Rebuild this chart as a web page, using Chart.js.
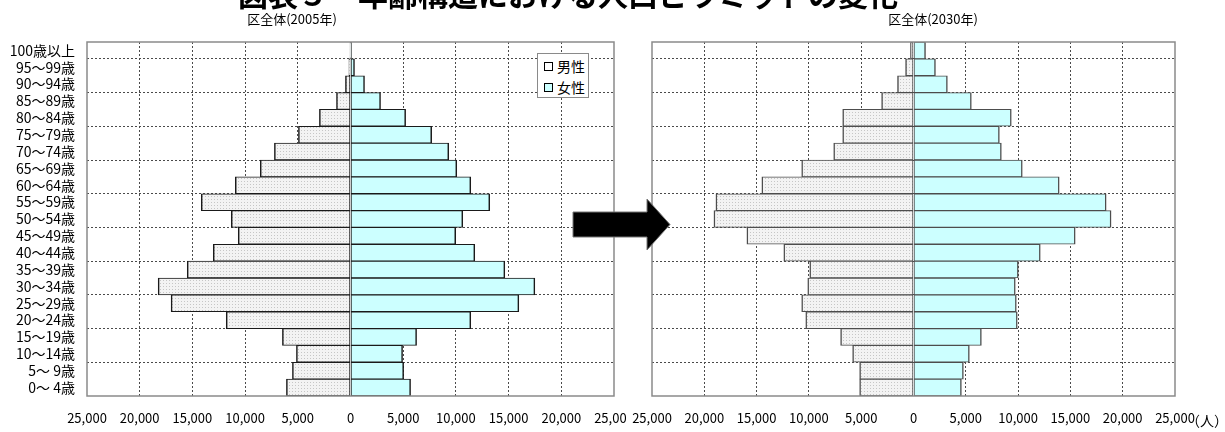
<!DOCTYPE html>
<html lang="ja">
<head>
<meta charset="utf-8">
<title>人口ピラミッド</title>
<script src="https://cdn.jsdelivr.net/npm/chart.js@4.4.0/dist/chart.umd.min.js"></script>
<style>
  html, body { margin: 0; padding: 0; background: #fff; width: 1225px; height: 432px; overflow: hidden; }
  body { font-family: "Noto Sans CJK JP", "Noto Sans", sans-serif; color: #000; }
  #wrap { position: relative; width: 1225px; height: 432px; }
  canvas { position: absolute; top: 0; }
  #c2005 { left: 0; }
  #c2030 { left: 626px; background: #fff; }
  .maintitle { position: absolute; left: 238px; top: -22px; font-size: 30px; line-height: 30px; font-weight: bold; white-space: nowrap; }
  .sub { position: absolute; top: 11px; font-size: 13px; line-height: 16px; white-space: nowrap; transform: translateX(-50%); background: #fff; }
  .legend { position: absolute; left: 537px; top: 53px; width: 52px; height: 45px; box-sizing: border-box; border: 1px solid #8a8a8a; background: #fff; }
  .legend .item { position: absolute; left: 6px; font-size: 14px; line-height: 16px; white-space: nowrap; }
  .legend .sw { display: inline-block; width: 7px; height: 7px; border: 1px solid #000; margin-right: 4px; vertical-align: 1px; }
  .unit { position: absolute; left: 1186px; top: 411px; font-size: 14px; line-height: 18px; white-space: nowrap; }
  svg.arrow { position: absolute; left: 0; top: 0; }
</style>
</head>
<body>
<div id="wrap">
  <canvas id="c2005" width="640" height="432"></canvas>
  <canvas id="c2030" width="599" height="432"></canvas>
  <div class="maintitle">図表５　年齢構造における人口ピラミッドの変化</div>
  <div class="sub" style="left:292px">区全体(2005年)</div>
  <div class="sub" style="left:933px">区全体(2030年)</div>
  <div class="legend">
    <div class="item" style="top:4px"><span class="sw" style="background:#fff"></span>男性</div>
    <div class="item" style="top:25px"><span class="sw" style="background:#ccffff"></span>女性</div>
  </div>
  <div class="unit">（人）</div>
  <svg class="arrow" width="1225" height="432">
    <polygon points="573,212 647,212 647,199 670,224.5 647,250 647,237 573,237" fill="#000" stroke="#777" stroke-width="1"/>
  </svg>
</div>
<script>
// 年齢階級（上から順）
const ageGroups = [
  '100歳以上', '95～99歳', '90～94歳', '85～89歳', '80～84歳', '75～79歳', '70～74歳',
  '65～69歳', '60～64歳', '55～59歳', '50～54歳', '45～49歳', '40～44歳', '35～39歳',
  '30～34歳', '25～29歳', '20～24歳', '15～19歳', '10～14歳', '5～ 9歳', '0～ 4歳'
];

// 2005年 人口（人）
const male2005 = [
  10, 150, 480, 1330, 2950, 4940, 7220, 8560, 10930, 14160, 11310,
  10650, 13020, 15490, 18250, 17020, 11790, 6460, 5130, 5510, 6080
];
const female2005 = [
  40, 380, 1330, 2850, 5230, 7700, 9320, 10080, 11410, 13210, 10650,
  9980, 11790, 14640, 17490, 15970, 11410, 6270, 4940, 5040, 5700
];

// 2030年 推計人口（人）
const male2030 = [
  290, 760, 1530, 3050, 6770, 6770, 7630, 10690, 14500, 18890, 19080,
  15930, 12400, 9920, 10110, 10690, 10300, 6970, 5820, 5150, 5150
];
const female2030 = [
  1150, 2100, 3240, 5530, 9350, 8210, 8400, 10400, 13930, 18420, 18890,
  15460, 12120, 10020, 9730, 9830, 9920, 6490, 5340, 4770, 4580
];

// 横軸の範囲と目盛
const axisMax = 25000;
const axisStep = 5000;

Chart.defaults.font.family = '"Noto Sans CJK JP", "Noto Sans", sans-serif';
Chart.defaults.color = '#000';

// 男性の棒に使う点描パターン
function dotPattern(ctx) {
  const c = document.createElement('canvas');
  c.width = 3; c.height = 3;
  const g = c.getContext('2d');
  g.fillStyle = '#f3f3f3';
  g.fillRect(0, 0, 3, 3);
  g.fillStyle = '#c6c6c6';
  g.fillRect(1, 1, 1, 1);
  return ctx.createPattern(c, 'repeat');
}

// 外枠と0の縦線
const framePlugin = {
  id: 'frame',
  beforeDatasetsDraw(chart) {
    const { ctx, chartArea: a, scales: { x } } = chart;
    const x0 = Math.round(x.getPixelForValue(0)) + 0.5;
    ctx.save();
    ctx.strokeStyle = '#707070';
    ctx.lineWidth = 1;
    ctx.beginPath();
    ctx.moveTo(x0, a.top);
    ctx.lineTo(x0, a.bottom);
    ctx.stroke();
    ctx.restore();
  },
  afterDraw(chart) {
    const { ctx, chartArea: a } = chart;
    ctx.save();
    ctx.strokeStyle = '#8a8a8a';
    ctx.lineWidth = 1.5;
    ctx.strokeRect(Math.round(a.left), Math.round(a.top), Math.round(a.right - a.left), Math.round(a.bottom - a.top));
    ctx.restore();
  }
};

function makePyramid(canvasId, male, female, o) {
  const canvas = document.getElementById(canvasId);
  const ctx = canvas.getContext('2d');
  return new Chart(ctx, {
    type: 'bar',
    data: {
      labels: ageGroups,
      datasets: [
        {
          label: '男性',
          data: male.map(v => -v),
          backgroundColor: dotPattern(ctx),
          borderColor: o.barBorder,
          borderWidth: { top: 1, bottom: 1, left: 1.5, right: 1 },
          borderSkipped: false,
          barPercentage: 1,
          categoryPercentage: 1
        },
        {
          label: '女性',
          data: female,
          backgroundColor: '#ccffff',
          borderColor: o.barBorder,
          borderWidth: { top: 1, bottom: 1, left: 1, right: 1.5 },
          borderSkipped: false,
          barPercentage: 1,
          categoryPercentage: 1
        }
      ]
    },
    options: {
      indexAxis: 'y',
      responsive: false,
      animation: false,
      layout: { padding: { top: 42, right: o.padRight, left: 0, bottom: 0 } },
      plugins: { legend: { display: false }, title: { display: false }, tooltip: { enabled: false } },
      scales: {
        x: {
          type: 'linear',
          min: -axisMax,
          max: axisMax,
          stacked: true,
          grid: {
            drawTicks: false,
            lineWidth: 1,
            color: c => {
              const v = c.tick ? c.tick.value : null;
              return (v === 0 || Math.abs(v) === axisMax) ? 'rgba(0,0,0,0)' : '#4a4a4a';
            }
          },
          border: { display: false, dash: [2, 2] },
          ticks: {
            stepSize: axisStep,
            autoSkip: false,
            maxRotation: 0,
            padding: 14,
            color: '#000',
            font: { size: 13 },
            callback: v => Math.abs(v).toLocaleString('en-US')
          },
          afterFit: s => { s.height = 36; s.paddingLeft = 0; s.paddingRight = 0; }
        },
        y: {
          type: 'category',
          stacked: true,
          offset: true,
          grid: {
            offset: true,
            drawTicks: false,
            lineWidth: 1,
            color: c => (typeof c.index === 'number' && c.index % 2 === 1) ? '#4a4a4a' : 'rgba(0,0,0,0)'
          },
          border: { display: false, dash: [2, 2] },
          ticks: {
            display: o.showLabels,
            autoSkip: false,
            padding: 12,
            color: '#000',
            font: { size: 14 }
          },
          afterFit: s => { s.width = o.yWidth; s.paddingTop = 0; s.paddingBottom = 0; }
        }
      }
    },
    plugins: [framePlugin]
  });
}

makePyramid('c2005', male2005, female2005, { barBorder: '#1a1a1a', padRight: 26, yWidth: 87, showLabels: true });
makePyramid('c2030', male2030, female2030, { barBorder: '#4d4d4d', padRight: 50, yWidth: 26, showLabels: false });
</script>
</body>
</html>
